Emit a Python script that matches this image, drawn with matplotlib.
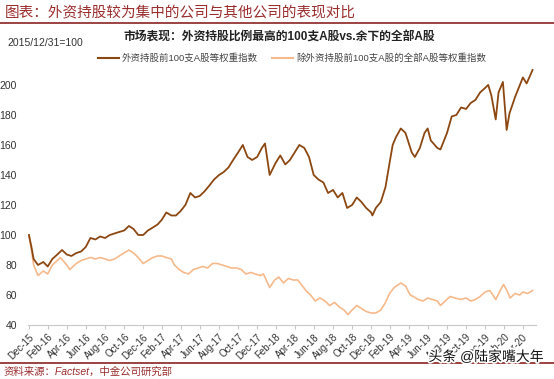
import pandas as pd
import matplotlib
matplotlib.use("Agg")
import matplotlib.pyplot as plt
import matplotlib.dates as mdates
import matplotlib.patheffects as pe

plt.rcParams["font.family"] = ["Liberation Sans", "Noto Sans CJK SC", "DejaVu Sans"]

# 外资持股前100支A股等权重指数 (2015/12/31=100)
top100_dates = [
    "2015-12-31", "2016-01-08", "2016-01-15", "2016-01-29", "2016-02-15", "2016-02-29",
    "2016-03-15", "2016-03-31", "2016-04-15", "2016-04-30", "2016-05-15", "2016-05-31",
    "2016-06-15", "2016-06-30", "2016-07-15", "2016-07-31", "2016-08-15", "2016-08-31",
    "2016-09-15", "2016-09-30", "2016-10-15", "2016-10-31", "2016-11-15", "2016-11-30",
    "2016-12-15", "2016-12-31", "2017-01-15", "2017-01-31", "2017-02-15", "2017-02-28",
    "2017-03-15", "2017-03-31", "2017-04-15", "2017-04-30", "2017-05-15", "2017-05-31",
    "2017-06-15", "2017-06-30", "2017-07-15", "2017-07-31", "2017-08-15", "2017-08-31",
    "2017-09-15", "2017-09-30", "2017-10-15", "2017-10-31", "2017-11-15", "2017-11-30",
    "2017-12-15", "2017-12-31", "2018-01-15", "2018-01-25", "2018-02-09", "2018-02-28",
    "2018-03-15", "2018-03-31", "2018-04-15", "2018-04-30", "2018-05-15", "2018-05-31",
    "2018-06-15", "2018-06-30", "2018-07-15", "2018-07-31", "2018-08-15", "2018-08-31",
    "2018-09-15", "2018-09-30", "2018-10-15", "2018-10-31", "2018-11-15", "2018-11-30",
    "2018-12-15", "2018-12-31", "2019-01-04", "2019-01-15", "2019-01-31", "2019-02-15",
    "2019-02-28", "2019-03-10", "2019-03-20", "2019-04-05", "2019-04-20", "2019-05-10",
    "2019-05-20", "2019-06-05", "2019-06-20", "2019-06-30", "2019-07-10", "2019-07-31",
    "2019-08-10", "2019-08-31", "2019-09-15", "2019-09-30", "2019-10-15", "2019-10-31",
    "2019-11-15", "2019-11-30", "2019-12-15", "2019-12-31", "2020-01-10", "2020-01-20",
    "2020-02-03", "2020-02-12", "2020-02-26", "2020-03-09", "2020-03-18", "2020-04-05",
    "2020-04-30", "2020-05-12", "2020-05-31",
]
top100_values = [
    100, 92, 84, 80, 82, 79,
    84, 87, 90, 87, 86, 88,
    89, 92, 98, 97, 99, 98,
    100, 101, 102, 103, 106, 104,
    100, 100, 103, 105, 107, 110,
    115, 113, 113, 116, 120, 128,
    125, 126, 129, 133, 137, 140,
    142, 145, 150, 155, 160, 152,
    150, 152, 158, 161, 140, 148,
    153, 147, 150, 155, 160, 158,
    152, 140, 137, 135, 128, 130,
    125, 128, 118, 120, 125, 122,
    118, 115, 113, 118, 122, 132,
    148, 160, 165, 171, 168, 155,
    152, 158, 168, 171, 163, 158,
    157, 168, 179, 180, 185, 184,
    188, 190, 195, 198, 200, 193,
    177, 195, 202, 170, 181, 192,
    205, 201, 210,
]

# 除外资持股前100支A股的全部A股等权重指数
rest_dates = [
    "2015-12-31", "2016-01-08", "2016-01-15", "2016-01-29", "2016-02-15", "2016-02-29",
    "2016-03-15", "2016-03-31", "2016-04-10", "2016-04-30", "2016-05-10", "2016-05-20",
    "2016-05-31", "2016-06-15", "2016-06-30", "2016-07-15", "2016-07-31", "2016-08-15",
    "2016-08-31", "2016-09-15", "2016-09-30", "2016-10-15", "2016-10-31", "2016-11-15",
    "2016-11-30", "2016-12-15", "2016-12-31", "2017-01-15", "2017-01-31", "2017-02-15",
    "2017-02-28", "2017-03-15", "2017-03-31", "2017-04-10", "2017-04-25", "2017-05-10",
    "2017-05-25", "2017-06-10", "2017-06-25", "2017-07-10", "2017-07-25", "2017-08-10",
    "2017-08-25", "2017-09-10", "2017-09-25", "2017-10-10", "2017-10-25", "2017-11-10",
    "2017-11-25", "2017-12-10", "2017-12-25", "2018-01-10", "2018-01-20", "2018-02-09",
    "2018-02-25", "2018-03-10", "2018-03-25", "2018-04-10", "2018-04-25", "2018-05-10",
    "2018-05-25", "2018-06-05", "2018-06-20", "2018-07-05", "2018-07-20", "2018-08-05",
    "2018-08-20", "2018-09-05", "2018-09-20", "2018-10-05", "2018-10-18", "2018-10-31",
    "2018-11-15", "2018-11-30", "2018-12-15", "2018-12-31", "2019-01-15", "2019-01-31",
    "2019-02-15", "2019-02-28", "2019-03-15", "2019-04-05", "2019-04-20", "2019-05-05",
    "2019-05-15", "2019-05-31", "2019-06-15", "2019-06-30", "2019-07-15", "2019-07-31",
    "2019-08-10", "2019-08-25", "2019-09-10", "2019-09-25", "2019-10-15", "2019-10-31",
    "2019-11-15", "2019-11-30", "2019-12-15", "2019-12-31", "2020-01-15", "2020-01-25",
    "2020-02-03", "2020-02-15", "2020-02-28", "2020-03-10", "2020-03-20", "2020-04-05",
    "2020-04-20", "2020-04-30", "2020-05-15", "2020-05-31",
]
rest_values = [
    100, 90, 80, 73, 76, 74,
    80, 83, 85, 80, 77, 79,
    81, 83, 84, 85, 84, 85,
    84, 83, 84, 86, 88, 90,
    88, 85, 81, 83, 85, 86,
    86, 85, 84, 80, 77, 75,
    74, 77, 78, 79, 78, 81,
    81, 80, 79, 78, 78, 77,
    74, 75, 74, 73, 74, 65,
    70, 72, 68, 71, 70, 70,
    66, 63, 60, 56, 58, 56,
    53, 55, 52, 50, 47, 50,
    53, 51, 49, 48, 48, 50,
    55, 61, 65, 68, 66, 60,
    59, 57, 56, 58, 57, 56,
    53, 56, 59, 58, 57, 58,
    56, 57, 59, 62, 63, 60,
    57, 62, 67, 63, 58, 61,
    60, 62, 61, 63,
]

top100_label = "外资持股前100支A股等权重指数"
rest_label = "除外资持股前100支A股的全部A股等权重指数"

W, H = 554, 379
fig = plt.figure(figsize=(W / 100, H / 100), dpi=100)

# header / footer
red = "#9B2D2D"
fig.text(5 / W, 1 - 12 / H, "图表：外资持股较为集中的公司与其他公司的表现对比",
         color=red, fontsize=10.5, style="italic", va="center", ha="left")
fig.add_artist(plt.Line2D([0, 1], [1 - 23 / H, 1 - 23 / H], color="#8B2323", lw=1.2))
fig.add_artist(plt.Line2D([0, 1], [1 - 363 / H, 1 - 363 / H], color="#8B2323", lw=1.2))
fig.text(4 / W, 1 - 372 / H, "资料来源：Factset，中金公司研究部",
         color=red, fontsize=7.5, style="italic", va="center", ha="left")

fig.text(7 / W, 1 - 43 / H, "2015/12/31=100", color="#333333", fontsize=7.5,
         va="center", ha="left")
fig.text(279 / W, 1 - 38 / H, "市场表现：外资持股比例最高的100支A股vs.余下的全部A股",
         color="#222222", fontsize=8.5, fontweight="bold", va="center", ha="center")

ax = fig.add_axes([28 / W, 1 - 325 / H, (536 - 28) / W, (325 - 65) / H])

dark = "#8C4712"
light = "#F6B98C"
ax.plot(pd.to_datetime(rest_dates), rest_values, color=light, lw=1.2, label=rest_label)
ax.plot(pd.to_datetime(top100_dates), top100_values, color=dark, lw=1.3, label=top100_label)

ax.set_ylim(40, 213.3)
ax.set_yticks(range(40, 201, 20))
ax.set_xlim(pd.Timestamp("2015-12-28"), pd.Timestamp("2020-06-11"))
ticks = pd.date_range("2015-12-31", "2020-04-30", freq="2ME")
ax.set_xticks(ticks)
ax.xaxis.set_major_formatter(mdates.DateFormatter("%b-%y"))
for lab in ax.get_xticklabels():
    lab.set_rotation(45)
    lab.set_ha("right")
    lab.set_rotation_mode("anchor")
ax.tick_params(axis="x", labelsize=7, colors="#333333", length=3, color="#C8C8C8", pad=2)
ax.tick_params(axis="y", labelsize=7.5, colors="#333333", length=0, pad=8)

for s in ["top", "right", "left"]:
    ax.spines[s].set_visible(False)
ax.spines["bottom"].set_color("#C8C8C8")

# legend drawn as two entries on one row
h_dark = plt.Line2D([], [], color=dark, lw=1.5)
h_light = plt.Line2D([], [], color=light, lw=1.5)
fig.legend([h_dark, h_light], [top100_label, rest_label], loc="center",
           bbox_to_anchor=(292 / W, 1 - 58 / H), ncol=2, frameon=False,
           fontsize=6.8, handlelength=2.2, handletextpad=0.3, columnspacing=1.5,
           labelcolor="#444444")

# watermark
fig.text(486 / W, 1 - 357 / H, "头条 @陆家嘴大年", fontsize=10, color="#111111",
         ha="center", va="center",
         path_effects=[pe.withStroke(linewidth=2.5, foreground="white")])

fig.savefig("out.png", dpi=100)
